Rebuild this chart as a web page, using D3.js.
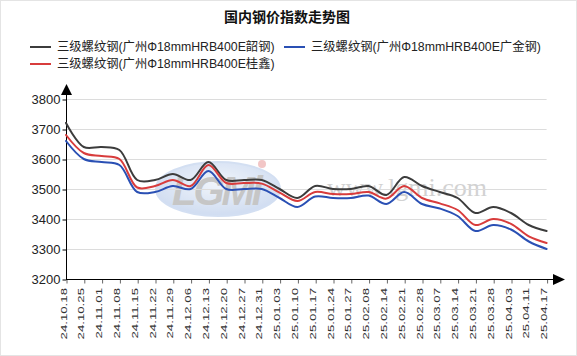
<!DOCTYPE html>
<html><head><meta charset="utf-8">
<script src="https://cdn.jsdelivr.net/npm/d3@7"></script>
<style>
html,body{margin:0;padding:0;background:#fff;}
svg{display:block;font-family:"Liberation Sans",Arial,"Noto Sans CJK SC",sans-serif;}
</style></head>
<body>
<svg id="c" width="577" height="356"></svg>
<script>
const categories = ["24.10.18","24.10.25","24.11.01","24.11.08","24.11.15","24.11.22","24.11.29","24.12.06","24.12.13","24.12.20","24.12.27","24.12.31","25.01.03","25.01.10","25.01.17","25.01.24","25.01.27","25.02.08","25.02.14","25.02.21","25.02.28","25.03.07","25.03.14","25.03.21","25.03.28","25.04.03","25.04.11","25.04.17"];
const shaogang = [3720,3640,3640,3630,3530,3530,3550,3530,3590,3530,3530,3530,3500,3470,3510,3500,3500,3510,3480,3540,3510,3490,3470,3420,3440,3420,3380,3360];
const guangjin = [3660,3600,3590,3580,3490,3490,3510,3500,3560,3500,3500,3500,3470,3440,3475,3470,3470,3478,3450,3490,3450,3435,3410,3360,3380,3365,3325,3300];
const guixin   = [3680,3620,3610,3600,3505,3510,3530,3510,3580,3520,3520,3518,3488,3460,3490,3483,3483,3490,3468,3510,3470,3452,3430,3380,3400,3384,3342,3320];
const yTicks = [3200,3300,3400,3500,3600,3700,3800];
const seriesNames = ["三级螺纹钢(广州Φ18mmHRB400E韶钢)","三级螺纹钢(广州Φ18mmHRB400E广金钢)","三级螺纹钢(广州Φ18mmHRB400E桂鑫)"];
const seriesColors = ["#3c3c3c","#2a50b4","#d83c3c"];
const title = "国内钢价指数走势图";

const series = [
  {name: seriesNames[0], values: shaogang, color: seriesColors[0]},
  {name: seriesNames[1], values: guangjin, color: seriesColors[1]},
  {name: seriesNames[2], values: guixin,   color: seriesColors[2]}
];

const svg = d3.select("#c");
const pLeft = 66, pRight = 546.6, pTop = 99, pBottom = 279;

const x = d3.scalePoint().domain(categories).range([pLeft, pRight]);
const y = d3.scaleLinear().domain([3200, 3800]).range([pBottom, pTop]);

// outer border
svg.append("rect").attr("x",0.5).attr("y",0.5).attr("width",576).attr("height",355)
  .attr("fill","none").attr("stroke","#e4e4e4");

// title
svg.append("text").attr("x",287).attr("y",22).attr("text-anchor","middle")
  .attr("font-size",14).attr("font-weight","bold").attr("fill","#111").text(title);

// legend
const legendPos = [[30,47],[284,47],[30,64]];
series.forEach((s,i)=>{
  const [lx,ly] = legendPos[i];
  svg.append("line").attr("x1",lx).attr("x2",lx+21).attr("y1",ly).attr("y2",ly)
    .attr("stroke",s.color).attr("stroke-width",2);
  svg.append("text").attr("x",lx+27).attr("y",ly).attr("dy","0.36em")
    .attr("font-size",12.3).attr("fill","#222").text(s.name);
});

// watermark
const defs = svg.append("defs");
const grad = defs.append("radialGradient").attr("id","wmg").attr("cx","50%").attr("cy","40%").attr("r","60%");
grad.append("stop").attr("offset","0%").attr("stop-color","#eef3fb");
grad.append("stop").attr("offset","100%").attr("stop-color","#c4d4ee");
const wm = svg.append("g").attr("opacity",0.8);
wm.append("ellipse").attr("cx",218).attr("cy",189).attr("rx",62).attr("ry",27)
  .attr("fill","url(#wmg)").attr("stroke","#c9d8f0").attr("stroke-width",2);
wm.append("text").attr("x",216).attr("y",205).attr("text-anchor","middle")
  .attr("font-size",40).attr("font-weight","bold").attr("font-style","italic")
  .attr("fill","#b8b8b8").attr("letter-spacing",-3).text("LGMi");
wm.append("circle").attr("cx",262).attr("cy",164).attr("r",4).attr("fill","#f0b8b8");
wm.append("text").attr("x",407).attr("y",196).attr("text-anchor","middle")
  .attr("font-family","Liberation Serif,serif").attr("font-size",26)
  .attr("fill","#c8c8c8").text("www.lgmi.com");

// gridlines
svg.append("g").selectAll("line").data(yTicks.slice(1)).join("line")
  .attr("x1",pLeft).attr("x2",pRight).attr("y1",d=>Math.round(y(d))+0.5).attr("y2",d=>Math.round(y(d))+0.5)
  .attr("stroke","#dcdcdc").attr("stroke-width",1);

// y axis
const yAxis = d3.axisLeft(y).tickValues(yTicks).tickSize(4).tickPadding(2).tickFormat(d3.format("d"));
const gy = svg.append("g").attr("transform",`translate(${pLeft+0.5},0.5)`).call(yAxis);
gy.select(".domain").remove();
gy.selectAll("line").attr("stroke","#000");
gy.selectAll("text").attr("font-size",13).attr("fill","#222").attr("font-family","Liberation Sans,Arial,sans-serif");
svg.append("line").attr("x1",pLeft+0.5).attr("x2",pLeft+0.5).attr("y1",pBottom+0.5).attr("y2",92)
  .attr("stroke","#000").attr("stroke-width",1);
svg.append("path").attr("d",`M${pLeft+0.5},84 L${pLeft-5},95 L${pLeft+6},95 Z`).attr("fill","#000");

// x axis
const xAxis = d3.axisBottom(x).tickSize(4).tickFormat("");
const gx = svg.append("g").attr("transform",`translate(0.5,${pBottom+0.5})`).call(xAxis);
gx.select(".domain").remove();
gx.selectAll("line").attr("stroke","#666");
svg.append("line").attr("x1",pLeft).attr("x2",556).attr("y1",pBottom+0.5).attr("y2",pBottom+0.5)
  .attr("stroke","#000").attr("stroke-width",1);
svg.append("path").attr("d",`M565,${pBottom+0.5} L553,${pBottom-5} L553,${pBottom+6} Z`).attr("fill","#000");

// x labels (rotated)
svg.append("g").selectAll("text").data(categories).join("text")
  .attr("transform",d=>`translate(${x(d)+0.5},288) rotate(-90) scale(1.38,1)`)
  .attr("text-anchor","end").attr("font-size",9.6).attr("fill","#333")
  .attr("font-family","Liberation Sans,Arial,sans-serif").text(d=>d);

// lines
const line = d3.line().x((d,i)=>x(categories[i])).y(d=>y(d)).curve(d3.curveCatmullRom.alpha(0.5));
const drawOrder = [0,2,1];
drawOrder.forEach(i=>{
  const s = series[i];
  svg.append("path").datum(s.values).attr("d",line)
    .attr("fill","none").attr("stroke",s.color).attr("stroke-width",2)
    .attr("stroke-linejoin","round").attr("stroke-linecap","round");
});
</script>
</body></html>
